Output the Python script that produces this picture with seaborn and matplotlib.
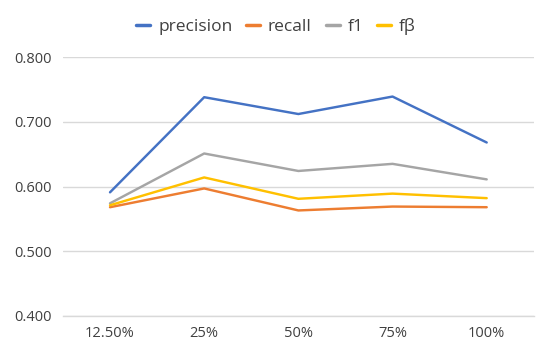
import matplotlib
matplotlib.use("Agg")
import matplotlib.pyplot as plt
import seaborn as sns
import pandas as pd

categories = ["12.50%", "25%", "50%", "75%", "100%"]
precision = [0.591, 0.738, 0.712, 0.739, 0.668]
recall = [0.568, 0.597, 0.563, 0.569, 0.568]
f1 = [0.574, 0.651, 0.624, 0.635, 0.611]
fbeta = [0.571, 0.614, 0.581, 0.589, 0.582]
series_names = ["precision", "recall", "f1", "fβ"]
colors = ["#4472C4", "#ED7D31", "#A5A5A5", "#FFC000"]
yticks = [0.4, 0.5, 0.6, 0.7, 0.8]

rows = []
for name, vals in zip(series_names, [precision, recall, f1, fbeta]):
    for c, v in zip(categories, vals):
        rows.append({"cat": c, "value": v, "series": name})
df = pd.DataFrame(rows)

sns.set_theme(style="white")
plt.rcParams["font.family"] = ["Open Sans", "DejaVu Sans"]

fig = plt.figure(figsize=(5.52, 3.59), dpi=100)
ax = fig.add_axes([0.114, 0.12, 0.853, 0.721])
sns.lineplot(data=df, x="cat", y="value", hue="series", palette=colors,
             hue_order=series_names, sort=False, linewidth=1.75, ax=ax, legend=True)

ax.set_xlim(-0.5, 4.5)
ax.set_ylim(0.4, 0.8)
ax.set_yticks(yticks)
ax.set_yticklabels([f"{t:.3f}" for t in yticks])
ax.grid(axis="y", color="#D9D9D9", linewidth=1)
ax.set_axisbelow(True)
for s in ["top", "right", "left"]:
    ax.spines[s].set_visible(False)
ax.spines["bottom"].set_color("#D9D9D9")
ax.spines["bottom"].set_linewidth(1)
ax.tick_params(axis="both", length=0, labelsize=10.5, labelcolor="#404040", pad=7)
ax.tick_params(axis="y", pad=8)
ax.set_xlabel("")
ax.set_ylabel("")

handles, labels = ax.get_legend_handles_labels()
ax.legend(handles, labels, loc="center", bbox_to_anchor=(0.5, 0.925),
          bbox_transform=fig.transFigure, ncol=4,
          frameon=False, fontsize=12.5, handlelength=0.8, columnspacing=0.8,
          handletextpad=0.45, labelcolor="#404040")
for line in ax.get_legend().get_lines():
    line.set_linewidth(2.5)

fig.savefig("out.png", dpi=100)
